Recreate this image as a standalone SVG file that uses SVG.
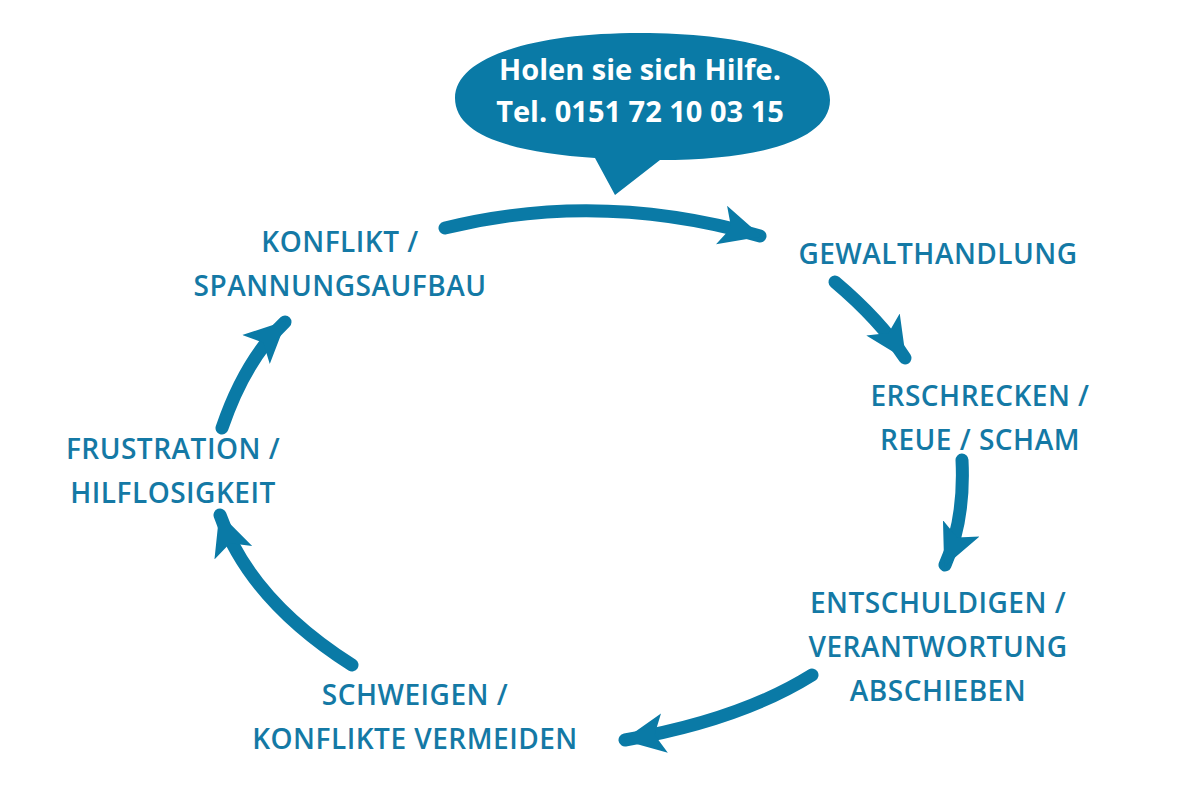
<svg xmlns="http://www.w3.org/2000/svg" width="1200" height="800" viewBox="0 0 1200 800">
<style>
.t{font-family:"Open Sans","Liberation Sans",sans-serif;font-weight:600;font-size:28px;fill:#1479a5;text-anchor:middle;letter-spacing:0.5px}
.b{font-family:"Open Sans","Liberation Sans",sans-serif;font-weight:700;font-size:29px;fill:#fff;text-anchor:middle}
.c{fill:none;stroke:#0a7aa6;stroke-width:13;stroke-linecap:round}
</style>
<defs>
<marker id="ah" markerUnits="userSpaceOnUse" markerWidth="60" markerHeight="60" refX="40" refY="25" orient="auto">
<path d="M0,5 L42,25 L0,45 L10,25 Z" fill="#0a7aa6"/>
</marker>
</defs>
<rect width="1200" height="800" fill="#fff"/>
<g id="bubble">
<path d="M640,33 C760,33 830,60 830,100 C830,140 760,160 660,160 L615,195 L595,158 C510,152 455,135 455,98 C455,58 530,33 640,33 Z" fill="#0a7aa6"/>
<text class="b" x="640" y="80">Holen sie sich Hilfe.</text>
<text class="b" x="640" y="122">Tel.  0151 72 10 03 15</text>
</g>
<g id="connectors">
<path class="c" d="M445,228 Q600,190 760,236" marker-end="url(#ah)"/>
<path class="c" d="M835,282 Q880,320 905,358" marker-end="url(#ah)"/>
<path class="c" d="M962,460 Q965,520 945,565" marker-end="url(#ah)"/>
<path class="c" d="M812,675 Q740,720 625,740" marker-end="url(#ah)"/>
<path class="c" d="M352,665 Q250,600 220,515" marker-end="url(#ah)"/>
<path class="c" d="M222,428 Q245,360 285,322" marker-end="url(#ah)"/>
</g>
<g id="n1"><text class="t" x="340" y="252">KONFLIKT /</text><text class="t" x="340" y="296">SPANNUNGSAUFBAU</text></g>
<g id="n2"><text class="t" x="938" y="264">GEWALTHANDLUNG</text></g>
<g id="n3"><text class="t" x="980" y="406">ERSCHRECKEN /</text><text class="t" x="980" y="450">REUE / SCHAM</text></g>
<g id="n4"><text class="t" x="938" y="613">ENTSCHULDIGEN /</text><text class="t" x="938" y="657">VERANTWORTUNG</text><text class="t" x="938" y="701">ABSCHIEBEN</text></g>
<g id="n5"><text class="t" x="415" y="705">SCHWEIGEN /</text><text class="t" x="415" y="749">KONFLIKTE VERMEIDEN</text></g>
<g id="n6"><text class="t" x="173" y="459">FRUSTRATION /</text><text class="t" x="173" y="503">HILFLOSIGKEIT</text></g>
</svg>
